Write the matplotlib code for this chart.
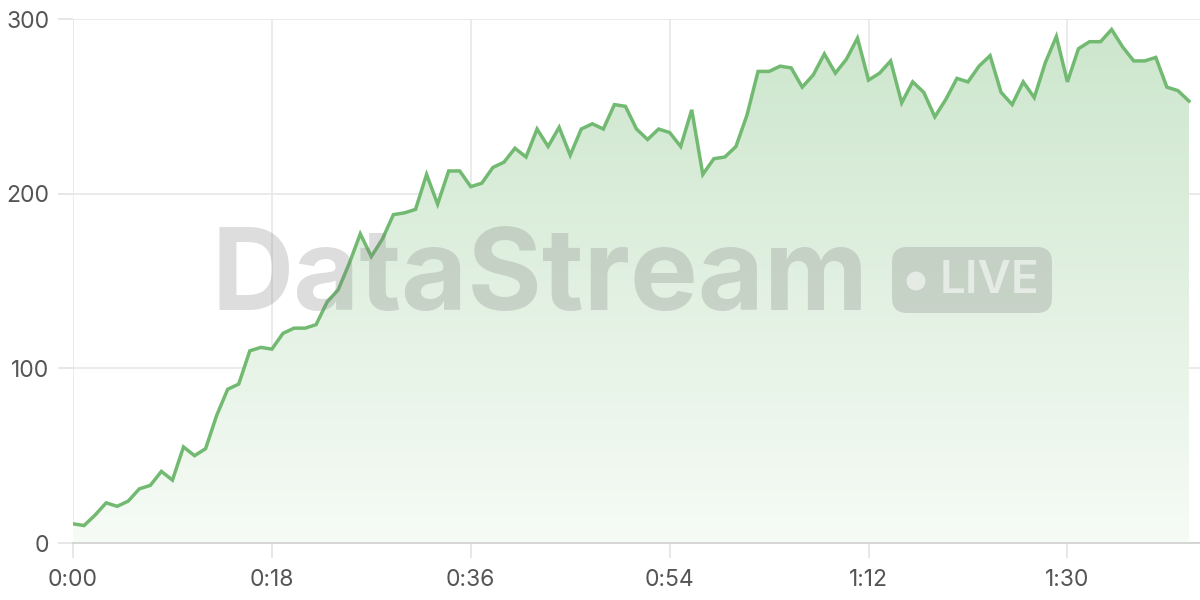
import matplotlib
matplotlib.use("Agg")
import matplotlib.pyplot as plt
import numpy as np
from matplotlib.patches import FancyBboxPatch, Circle, Polygon
from matplotlib.transforms import Affine2D
from matplotlib.ticker import FixedLocator, FuncFormatter

# ---- data (seconds, value) ----
seconds = list(range(102))
values = [11, 10, 16, 23, 21, 24, 31, 33, 41, 36,
          55, 50, 54, 73, 88, 91, 110, 112, 111, 120,
          123, 123, 125, 138, 145, 160, 177, 164, 174, 188,
          189, 191, 211, 194, 213, 213, 204, 206, 215, 218,
          226, 221, 237, 227, 238, 222, 237, 240, 237, 251,
          250, 237, 231, 237, 235, 227, 248, 211, 220, 221,
          227, 245, 270, 270, 273, 272, 261, 268, 280, 269,
          277, 289, 265, 269, 276, 252, 264, 258, 244, 254,
          266, 264, 273, 279, 258, 251, 264, 255, 275, 290,
          264, 283, 287, 287, 294, 284, 276, 276, 278, 261,
          259, 253]
x_ticks = [0, 18, 36, 54, 72, 90]
y_ticks = [0, 100, 200, 300]
watermark = "DataStream"
badge = "LIVE"

plt.rcParams['font.family'] = ['Inter', 'DejaVu Sans']

W, H = 1200, 600
fig = plt.figure(figsize=(12, 6), dpi=100)
ax = fig.add_axes([73/W, 57/H, 1 - 73/W, (543-19)/H])
ax.set_xlim(0, 102)
ax.set_ylim(0, 300)

line_color = "#72ba72"
x = np.array(seconds, dtype=float)
y = np.array(values, dtype=float)

# gradient fill
grad = np.linspace(0, 1, 256).reshape(-1, 1)
top = np.array([0.80, 0.90, 0.80])
bot = np.array([0.965, 0.985, 0.965])
img = np.zeros((256, 1, 4))
for k in range(3):
    img[:, 0, k] = bot[k] + (top[k] - bot[k]) * grad[:, 0]
img[:, 0, 3] = 1.0
im = ax.imshow(img, extent=[0, 102, 0, 300], origin='lower', aspect='auto', zorder=1)
verts = [(x[0], 0)] + list(zip(x, y)) + [(x[-1], 0)]
poly = Polygon(verts, closed=True, transform=ax.transData, facecolor='none', edgecolor='none')
ax.add_patch(poly)
im.set_clip_path(poly)

ax.plot(x, y, color=line_color, lw=2.5, zorder=3, solid_joinstyle='miter')

# grid / spines
for s in ['top', 'right', 'left']:
    ax.spines[s].set_visible(False)
ax.spines['bottom'].set_color('#cfcfcf')
ax.spines['bottom'].set_linewidth(1.2)
ax.grid(True, color='#e6e6e6', lw=1.1, zorder=0)
ax.set_axisbelow(True)

ax.xaxis.set_major_locator(FixedLocator(x_ticks))
ax.xaxis.set_major_formatter(FuncFormatter(lambda v, p: f"{int(v)//60}:{int(v)%60:02d}"))
ax.yaxis.set_major_locator(FixedLocator(y_ticks))
ax.tick_params(axis='both', colors='#e0e0e0', labelcolor='#555555', labelsize=16.5,
               length=11, width=1.1)
ax.tick_params(axis='x', pad=8)
ax.tick_params(axis='y', pad=6)

# watermark
fig.text(540/W, 1 - 280/H, watermark, fontsize=82, fontweight='bold',
         color=(0.45, 0.45, 0.45), alpha=0.24, ha='center', va='center', zorder=5)

# LIVE badge (pixel coordinates measured from the top-left)
flip = Affine2D().scale(1, -1).translate(0, H)
pill = FancyBboxPatch((892, 247), 160, 66,
                      boxstyle="round,pad=0,rounding_size=15",
                      transform=flip, facecolor=(0.45, 0.45, 0.45),
                      alpha=0.24, edgecolor='none', zorder=5)
fig.patches.append(pill)
dot = Circle((916, 281), 9.5, transform=flip, facecolor='white', alpha=0.55,
             edgecolor='none', zorder=6)
fig.patches.append(dot)
fig.text(989/W, 1 - 281/H, badge, fontsize=33, fontweight='semibold', color='white',
         alpha=0.55, ha='center', va='center', zorder=6)

fig.savefig("out.png", dpi=100)
